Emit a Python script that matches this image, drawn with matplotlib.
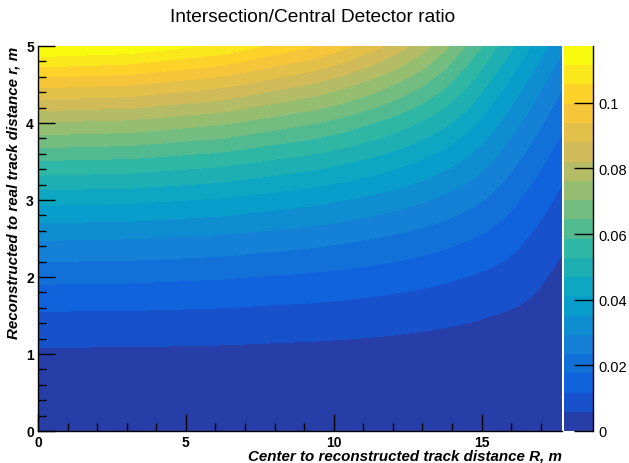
import numpy as np
import matplotlib
matplotlib.use("Agg")
import matplotlib.pyplot as plt
from matplotlib.colors import LinearSegmentedColormap
from matplotlib.ticker import MultipleLocator

plt.rcParams['font.family'] = ['Liberation Sans', 'DejaVu Sans']

# grid: center-to-track distance R (columns) and track offset r (rows), metres
R_vals = [0.0, 3.1, 6.2, 9.3, 10.4, 11.4, 12.2, 13.0, 13.75, 14.5, 15.1,
          15.75, 16.2, 16.6, 16.95, 17.2, 17.7]
r_vals = [0.0, 0.5, 1.0, 1.5, 2.0, 2.5, 3.0, 3.5, 4.0, 4.5, 5.0]

# intersection / central detector ratio, one list per R column (r = 0 ... 5)
ratio = [
    [0, 0.001197, 0.004784, 0.010754, 0.019091, 0.029776, 0.042780, 0.058074, 0.075621, 0.095371, 0.117277],
    [0, 0.0011796, 0.0047154, 0.010599, 0.018814, 0.029341, 0.042153, 0.057218, 0.074492, 0.093934, 0.115487],
    [0, 0.0011265, 0.0045029, 0.010119, 0.017959, 0.028001, 0.040212, 0.054558, 0.070994, 0.089468, 0.109922],
    [0, 0.0010322, 0.0041245, 0.0092655, 0.016435, 0.025605, 0.036739, 0.049793, 0.064709, 0.081422, 0.099860],
    [0, 0.00098657, 0.0039420, 0.0088533, 0.015699, 0.024447, 0.035058, 0.047481, 0.061652, 0.077499, 0.094930],
    [0, 0.00093854, 0.0037493, 0.0084178, 0.014920, 0.023219, 0.033270, 0.045015, 0.058380, 0.073273, 0.089600],
    [0, 0.00089482, 0.0035740, 0.0080211, 0.014209, 0.022098, 0.031636, 0.042755, 0.055368, 0.069371, 0.084624],
    [0, 0.00084567, 0.0033766, 0.0075741, 0.013407, 0.020829, 0.029778, 0.040172, 0.051903, 0.064828, 0.078737],
    [0, 0.00079372, 0.0031677, 0.0071004, 0.012555, 0.019475, 0.027785, 0.037380, 0.048110, 0.059727, 0.071795],
    [0, 0.00073486, 0.0029308, 0.0065616, 0.011581, 0.017918, 0.025471, 0.034078, 0.043391, 0.053314, 0.063991],
    [0, 0.00068159, 0.0027160, 0.0060709, 0.010688, 0.016475, 0.023277, 0.030750, 0.038891, 0.047807, 0.057498],
    [0, 0.00061593, 0.0024501, 0.0054594, 0.0095615, 0.014600, 0.020253, 0.026625, 0.033776, 0.041708, 0.050390],
    [0, 0.00056405, 0.0022389, 0.0049676, 0.0086280, 0.012936, 0.017924, 0.023673, 0.030199, 0.037477, 0.045570],
    [0, 0.00051205, 0.0020253, 0.0044592, 0.0075700, 0.011339, 0.015817, 0.021053, 0.027039, 0.033803, 0.041389],
    [0, 0.00046047, 0.0018109, 0.0039085, 0.0065779, 0.0099230, 0.013989, 0.018795, 0.024339, 0.030678, 0.037830],
    [0, 0.00041876, 0.0016311, 0.0034429, 0.0058453, 0.0089197, 0.012703, 0.017206, 0.022458, 0.028498, 0.035343],
    [0, 0.00031536, 0.0011502, 0.0024888, 0.0044166, 0.0069853, 0.010226, 0.014168, 0.018853, 0.024309, 0.030552],
]

cbar_ticks = [0, 0.02, 0.04, 0.06, 0.08, 0.1]
cbar_labels = ['0', '0.02', '0.04', '0.06', '0.08', '0.1']

# ROOT "bird" palette, 255 colours, 20 contour bands
stops = [0.0, 0.125, 0.25, 0.375, 0.5, 0.625, 0.75, 0.875, 1.0]
red = [0.2082, 0.0592, 0.0780, 0.0232, 0.1802, 0.5301, 0.8186, 0.9956, 0.9764]
green = [0.1664, 0.3599, 0.5041, 0.6419, 0.7178, 0.7492, 0.7328, 0.7862, 0.9832]
blue = [0.5293, 0.8684, 0.8385, 0.7914, 0.6425, 0.4662, 0.3499, 0.1968, 0.0539]
bird = LinearSegmentedColormap.from_list(
    'bird', list(zip(stops, zip(red, green, blue))), N=255)
nlev = 20
band_colors = [bird(int((i + 0.99) * 255 / nlev)) for i in range(nlev)]

Z = np.array(ratio).T
levels = np.linspace(0, Z.max(), nlev + 1)

W, H = 629, 464
fig = plt.figure(figsize=(W / 100, H / 100), dpi=100)
ax = fig.add_axes([38 / W, 1 - 432 / H, 523.5 / W, 385 / H])
cax = fig.add_axes([564 / W, 1 - 432 / H, 29 / W, 385 / H])

cs = ax.contourf(R_vals, r_vals, Z, levels=levels, colors=band_colors)
cs.set_edgecolor('face')
cs.set_linewidth(0.4)

ax.set_xlim(0, 17.7)
ax.set_ylim(0, 5)
ax.xaxis.set_major_locator(MultipleLocator(5))
ax.xaxis.set_minor_locator(MultipleLocator(1))
ax.yaxis.set_major_locator(MultipleLocator(1))
ax.yaxis.set_minor_locator(MultipleLocator(0.2))
ax.tick_params(which='both', direction='in', top=False, right=False, width=1, colors='black')
ax.tick_params(which='major', length=12, labelsize=10)
ax.tick_params(which='minor', length=6)
ax.tick_params(axis='x', pad=3)
ax.tick_params(axis='y', pad=3)
for lbl in ax.get_xticklabels() + ax.get_yticklabels():
    lbl.set_fontweight('bold')
for side in ('top', 'right'):
    ax.spines[side].set_visible(False)
for side in ('left', 'bottom'):
    ax.spines[side].set_linewidth(1)
ax.set_axisbelow(False)

cb = fig.colorbar(cs, cax=cax, ticks=cbar_ticks, spacing='proportional')
cb.set_ticklabels(cbar_labels)
cb.outline.set_visible(False)
cax.tick_params(direction='in', length=14, width=1, labelsize=10.5, pad=4)
cax.plot([1, 1], [0, 1], transform=cax.transAxes, color='black', lw=1, clip_on=False)

fig.text(313 / W, 1 - 18 / H, 'Intersection/Central Detector ratio',
         ha='center', va='center', fontsize=13.8)
fig.text(561.5 / W, 1 - 457 / H, 'Center to reconstructed track distance R, m',
         ha='right', va='center', fontsize=10.9, fontweight='bold', style='italic')
fig.text(14 / W, 1 - 47 / H, 'Reconstructed to real track distance r, m',
         ha='center', va='top', rotation=90, fontsize=10.9,
         fontweight='bold', style='italic')

fig.savefig('out.png', dpi=100)
